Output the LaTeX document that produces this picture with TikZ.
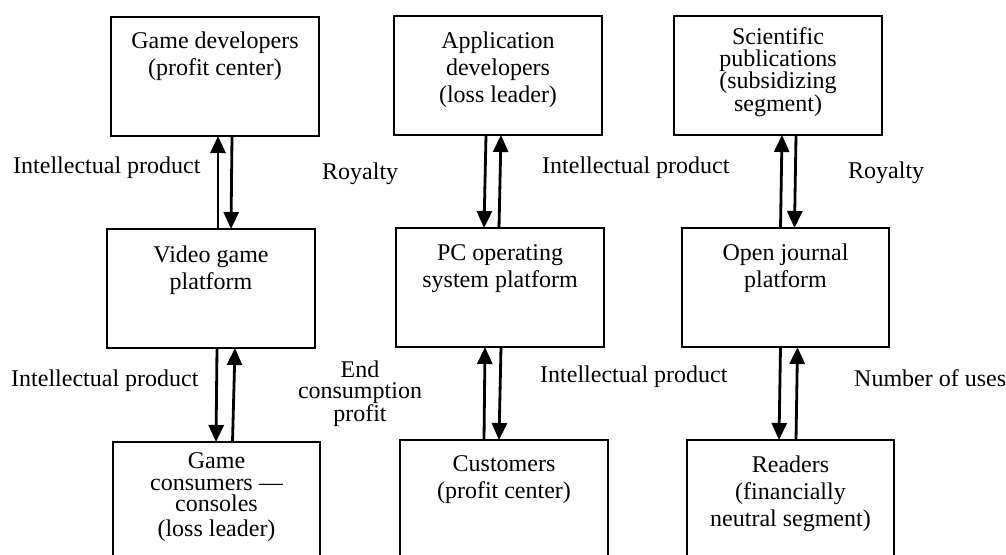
\documentclass[tikz,border=0pt]{standalone}
\usepackage{fontspec}
\setmainfont{Liberation Serif}
\usetikzlibrary{arrows.meta}
\begin{document}
\begin{tikzpicture}[x=1pt,y=-1pt,
  box/.style={draw, line width=1.2pt, minimum width=208pt, minimum height=119pt, inner sep=0pt, outer sep=0pt},
  boxtext/.style={anchor=north, align=center, inner sep=0pt, font=\fontsize{24}{27}\selectfont},
  tighttext/.style={anchor=north, align=center, inner sep=0pt, font=\fontsize{24}{21.5}\selectfont},
  lbl/.style={anchor=base west, inner sep=0pt, font=\fontsize{24}{27}\selectfont},
  arr/.style={line width=2.8pt, -{Triangle[length=17pt,width=15pt]}}]
\useasboundingbox (0,0) rectangle (1006,554);
\clip (0,0) rectangle (1006,554);
% boxes
\node[box] (gd) at (215,76.5) {};
\node[box] (ad) at (498,75.5) {};
\node[box] (sp) at (778,75.5) {};
\node[box] (vg) at (211,288.5) {};
\node[box] (pc) at (500,287.5) {};
\node[box, minimum width=207pt] (oj) at (785.5,287.5) {};
\node[box, minimum width=207pt] (gc) at (216.5,501.5) {};
\node[box] (cu) at (504,499.5) {};
\node[box, minimum width=207pt] (rd) at (790.5,499.5) {};
% box texts
\node[boxtext] (gdt) at ([yshift=-15pt]gd.north) {Game developers\\(profit center)};
\node[boxtext] (adt) at ([yshift=-15.6pt]ad.north) {Application\\developers\\(loss leader)};
\node[tighttext] (spt) at ([yshift=-11.5pt]sp.north) {Scientific\\publications\\(subsidizing\\segment)};
\node[boxtext] (vgt) at ([yshift=-16.6pt]vg.north) {Video game\\platform};
\node[boxtext] (pct) at ([yshift=-16pt]pc.north) {PC operating\\system platform};
\node[boxtext] (ojt) at ([yshift=-15.6pt]oj.north) {Open journal\\platform};
\node[tighttext] (gct) at ([yshift=-10.8pt]gc.north) {Game\\consumers —\\consoles\\[3.5pt](loss leader)};
\node[boxtext] (cut) at ([yshift=-15.8pt]cu.north) {Customers\\(profit center)};
\node[boxtext] (rdt) at ([yshift=-15.6pt]rd.north) {Readers\\(financially\\neutral segment)};
% arrows
\draw[arr] ([xshift=7pt]vg.north) -- ([xshift=3pt]gd.south);
\draw[arr] ([xshift=17pt]gd.south) -- ([xshift=20pt]vg.north);
\draw[arr] ([xshift=6pt]vg.south) -- ([xshift=-0.5pt]gc.north);
\draw[arr] ([xshift=16pt]gc.north) -- ([xshift=24pt]vg.south);
\draw[arr] ([xshift=-12pt]ad.south) -- ([xshift=-16pt]pc.north);
\draw[arr] ([xshift=-1pt]pc.north) -- ([xshift=3pt]ad.south);
\draw[arr] ([xshift=-20pt]cu.north) -- ([xshift=-15pt]pc.south);
\draw[arr] ([xshift=1pt]pc.south) -- ([xshift=-5pt]cu.north);
\draw[arr] ([xshift=-5pt]oj.north) -- ([xshift=4pt]sp.south);
\draw[arr] ([xshift=18pt]sp.south) -- ([xshift=9pt]oj.north);
\draw[arr] ([xshift=-5pt]oj.south) -- ([xshift=-11.5pt]rd.north);
\draw[arr] ([xshift=5.5pt]rd.north) -- ([xshift=12pt]oj.south);
% labels
\node[lbl] (l1) at (13,173) {Intellectual product};
\node[lbl] (l2) at (322,179) {Royalty};
\node[lbl] (l3) at (542,173) {Intellectual product};
\node[lbl] (l4) at (848,178) {Royalty};
\node[lbl] (l5) at (11,386) {Intellectual product};
\node[anchor=north, align=center, inner sep=0pt, font=\fontsize{24}{21}\selectfont] (l6) at (360,361) {End\\consumption\\profit};
\node[lbl] (l7) at (540,382) {Intellectual product};
\node[lbl] (l8) at (854,386) {Number of uses};
\end{tikzpicture}
\end{document}
